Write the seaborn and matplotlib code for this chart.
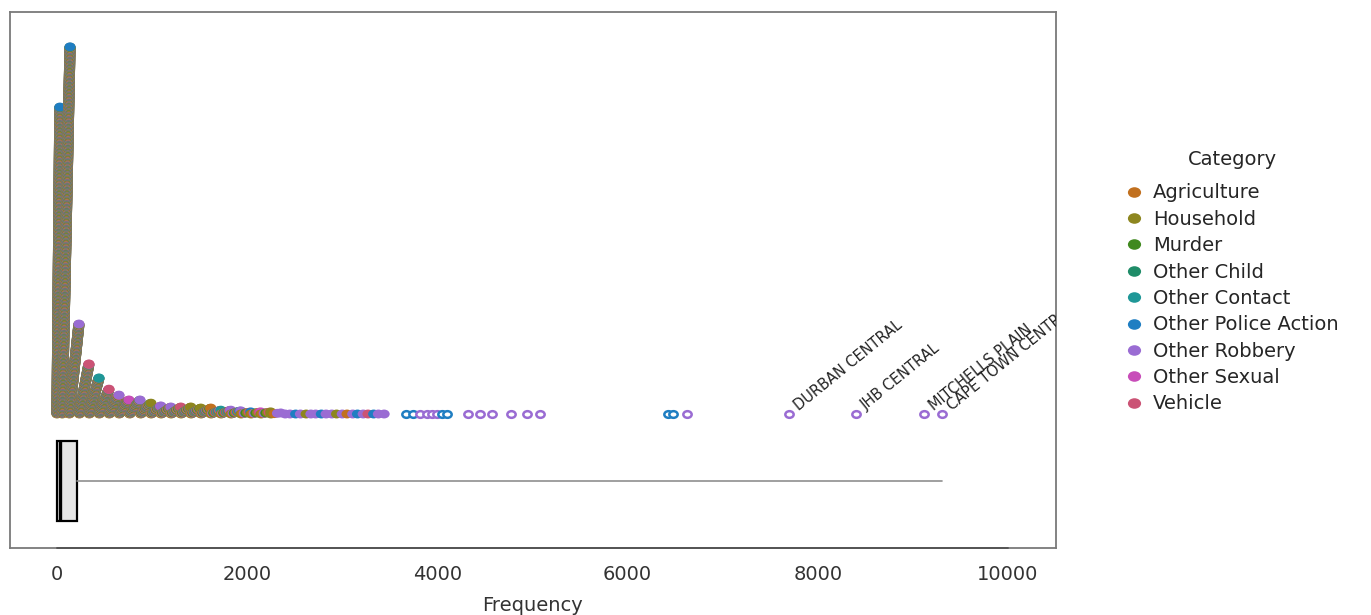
import numpy as np
import pandas as pd
import matplotlib
matplotlib.use("Agg")
import matplotlib.pyplot as plt
from matplotlib.path import Path
from matplotlib.transforms import Affine2D
from matplotlib.lines import Line2D
import seaborn as sns

# ---------------------------------------------------------------- data
categories = ["Agriculture", "Household", "Murder", "Other Child", "Other Contact",
              "Other Police Action", "Other Robbery", "Other Sexual", "Vehicle"]
category_colors = ["#C1701F", "#8D861F", "#40891F", "#1F8C68", "#1F9797",
                   "#1F7EC2", "#9A6CD3", "#C84DB9", "#CB5375"]

# Dense part of the dot histogram: frequency range of each stack,
# number of station/category counts in it and category of its largest value
bin_lo = [0, 55, 130, 236, 340, 445, 550, 655, 765, 880, 990, 1095, 1200, 1305,
          1410, 1515, 1620, 1725, 1830, 1935, 2040, 2145, 2250]
bin_hi = [30, 137, 231, 336, 442, 547, 652, 757, 873, 988, 1093, 1198, 1303, 1408,
          1513, 1618, 1723, 1828, 1933, 2038, 2143, 2248, 2353]
bin_count = [878, 1050, 258, 144, 104, 72, 55, 41, 41, 32, 24, 21, 21, 21,
             18, 18, 12, 12, 10, 7, 7, 7, 4]
bin_top = ["Other Police Action", "Other Police Action", "Other Robbery", "Vehicle",
           "Other Contact", "Vehicle", "Other Robbery", "Other Sexual", "Other Robbery",
           "Household", "Other Robbery", "Other Robbery", "Vehicle", "Household",
           "Household", "Agriculture", "Other Contact", "Other Robbery", "Other Robbery",
           "Other Police Action", "Other Sexual", "Household", "Other Robbery"]
# category order used inside the dense stacks
body_mix = ["Household", "Agriculture", "Other Robbery", "Murder", "Household",
            "Vehicle", "Other Contact", "Agriculture", "Other Police Action",
            "Household", "Other Sexual", "Other Child"]

# Sparse tail: single counts
tail_values = [2400, 2450, 2510, 2560, 2620, 2670, 2720, 2780, 2830, 2890, 2940,
               3000, 3050, 3110, 3160, 3220, 3270, 3330, 3380, 3440]
tail_cats = ["Other Robbery", "Other Robbery", "Other Police Action", "Other Robbery",
             "Household", "Other Robbery", "Other Robbery", "Other Police Action",
             "Other Robbery", "Other Robbery", "Household", "Other Robbery",
             "Agriculture", "Other Robbery", "Other Police Action", "Other Robbery",
             "Vehicle", "Other Police Action", "Other Robbery", "Other Robbery"]

# Outlying counts (open circles)
outlier_values = [3670, 3745, 3815, 3890, 3945, 4000, 4050, 4100, 4320, 4450, 4575,
                  4775, 4940, 5080, 6430, 6480, 6620, 7700, 8400, 9117, 9306]
outlier_cats = ["Other Police Action", "Other Police Action", "Other Robbery",
                "Other Robbery", "Other Robbery", "Other Robbery", "Other Police Action",
                "Other Police Action", "Other Robbery", "Other Robbery", "Other Robbery",
                "Other Robbery", "Other Robbery", "Other Robbery", "Other Police Action",
                "Other Police Action", "Other Robbery", "Other Robbery", "Other Robbery",
                "Other Robbery", "Other Robbery"]
station_names = ["DURBAN CENTRAL", "JHB CENTRAL", "MITCHELLS PLAIN", "CAPE TOWN CENTRAL"]
station_values = [7700, 8400, 9117, 9306]

# Five-number summary of all counts
box_min, box_q1, box_median, box_q3, box_max = 0, 2, 30, 207, 9306

# ---------------------------------------------------------------- layout
BASE = 134.0      # y of the bottom row of dots
STEP = 0.35       # vertical offset between stacked dots
BOX_Y = 67.0
BOX_H = 80.0

palette = dict(zip(categories, category_colors))

rows = []
for lo, hi, n, top in zip(bin_lo, bin_hi, bin_count, bin_top):
    for i in range(n):
        frac = i / (n - 1) if n > 1 else 0.5
        cat = top if i == n - 1 else body_mix[i % len(body_mix)]
        rows.append((lo + (hi - lo) * frac, BASE + i * STEP, cat))
for v, c in zip(tail_values, tail_cats):
    rows.append((v, BASE, c))
dots = pd.DataFrame(rows, columns=["Frequency", "stack", "Category"])
dots["Category"] = pd.Categorical(dots["Category"], categories=categories)

# slightly wide dots
oval = Path.unit_circle().transformed(Affine2D().scale(1.0, 0.8))

sns.set_theme(style="white")
plt.rcParams["font.family"] = ["DejaVu Sans"]

fig = plt.figure(figsize=(13.71, 6.15), dpi=100)
ax = fig.add_axes([10 / 1371, 67 / 615, 1046 / 1371, 536 / 615])

sns.scatterplot(data=dots, x="Frequency", y="stack", hue="Category",
                palette=palette, hue_order=categories, marker=oval, s=64,
                linewidth=0, legend=False, ax=ax, zorder=3)

for v, c in zip(outlier_values, outlier_cats):
    ax.scatter([v], [BASE], marker=oval, s=36, facecolors="white",
               edgecolors=palette[c], linewidths=1.8, zorder=4)

for name, v in zip(station_names, station_values):
    t = ax.annotate(name, xy=(v, BASE), xytext=(8.5, 0.5), textcoords="offset points",
                    rotation=39, rotation_mode="anchor", ha="left", va="bottom",
                    fontsize=10.5, color="#222222", annotation_clip=False)
    t.set_clip_on(True)
    t.set_clip_box(ax.bbox)

stats = [dict(whislo=box_min, q1=box_q1, med=box_median, q3=box_q3,
              whishi=box_max, fliers=[])]
ax.bxp(stats, positions=[BOX_Y], widths=BOX_H, orientation="horizontal",
       patch_artist=True, showcaps=False, showfliers=False, manage_ticks=False,
       boxprops=dict(facecolor="#E6E6E6", edgecolor="black", linewidth=1.6),
       medianprops=dict(color="black", linewidth=2.4),
       whiskerprops=dict(color="#8F8F8F", linewidth=1.2))

ax.set_xlim(-494, 10505)
ax.set_ylim(0, 536)
ax.set_xticks([0, 2000, 4000, 6000, 8000, 10000])
ax.set_yticks([])
ax.set_ylabel("")
ax.set_xlabel("Frequency", fontsize=14, color="#333333", labelpad=9)
ax.tick_params(axis="x", length=0, pad=12, labelsize=14, labelcolor="#333333")
for sp in ax.spines.values():
    sp.set_visible(True)
    sp.set_color("#7A7A7A")
    sp.set_linewidth(1.3)
ax.plot([0, 10000], [0, 0], color="#555555", linewidth=1.4, clip_on=False, zorder=5)

handles = [Line2D([], [], linestyle="", marker=oval, markersize=9.5,
                  markerfacecolor=col, markeredgewidth=0) for col in category_colors]
leg = fig.legend(handles, categories, title="Category", loc="upper left",
                 bbox_to_anchor=(1118 / 1371, 1 - 142 / 615), frameon=False,
                 fontsize=14, title_fontsize=14, handlelength=0.8, handletextpad=0.6,
                 labelspacing=0.38, borderaxespad=0)
leg._legend_box.sep = 10.5

fig.savefig("out.png", dpi=100)
